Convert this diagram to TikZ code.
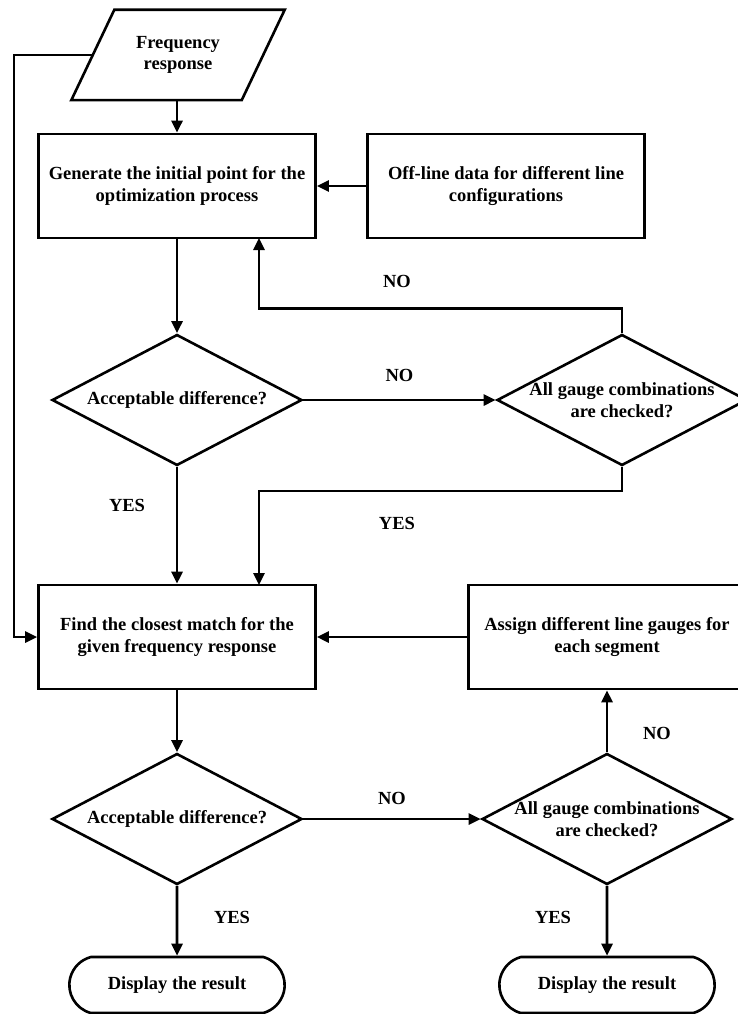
\documentclass[tikz,border=0pt]{standalone}
\usepackage{fontspec}
\setmainfont{Liberation Serif}
\usetikzlibrary{shapes.geometric,shapes.misc,arrows.meta}

\tikzset{
	proc/.style={draw, line width=2.6pt, minimum width=277pt, minimum height=104pt, align=center, inner sep=2pt},
	decide/.style={draw, diamond, line width=2.6pt, minimum width=250pt, minimum height=131pt, inner sep=0pt, label={[align=center]center:#1}},
	inout/.style={minimum width=170pt, minimum height=90pt, align=center, inner sep=0pt},
	term/.style={draw, rounded rectangle, rounded rectangle arc length=150, line width=2.6pt, minimum width=222pt, minimum height=56pt, align=center},
	lbl/.style={inner sep=1pt},
	>={Triangle[length=12pt,width=11pt]},
}

\begin{document}
\begin{tikzpicture}[x=1pt,y=-1pt,font=\fontsize{18.5}{21.5}\selectfont\bfseries]
	\useasboundingbox (0,0) rectangle (738,1014);
	%blocks
	\node[inout] (freq) at (178,55) {Frequency\\response};
	\draw[line width=2.6pt] ([xshift=21.5pt]freq.north west) -- ([xshift=21.5pt]freq.north east) -- ([xshift=-21.5pt]freq.south east) -- ([xshift=-21.5pt]freq.south west) -- cycle;
	\node[proc] (gen) at (177,186) {Generate the initial point for the\\optimization process};
	\node[proc] (offl) at (506,186) {Off-line data for different line\\configurations};
	\node[decide={Acceptable difference?}] (acc1) at (177,400) {};
	\node[decide={All gauge combinations\\are checked?}] (chk1) at (622,400) {};
	\node[proc] (find) at (177,637) {Find the closest match for the\\given frequency response};
	\node[proc] (asgn) at (607,637) {Assign different line gauges for\\each segment};
	\node[decide={Acceptable difference?}] (acc2) at (177,819) {};
	\node[decide={All gauge combinations\\are checked?}] (chk2) at (607,819) {};
	\node[term] (res1) at (177,985) {Display the result};
	\node[term] (res2) at (607,985) {Display the result};
	\coordinate (back) at (259,238);
	\coordinate (join) at (259,585);
	\coordinate (side) at (14,300);
	%connectors
	\draw[line width=2.6pt,->] (freq.south -| gen.north) -- (gen.north);
	\draw[line width=2.6pt,->] (offl) -- (gen);
	\draw[line width=2.6pt,->] (gen) -- (acc1);
	\draw[line width=2.6pt,->] (acc1) -- node[lbl, yshift=25pt] (no1) {NO} (chk1);
	\draw[line width=2.6pt,->] (chk1.north) -- ++(0,-25) -| node[lbl, pos=0.31, yshift=27pt] (no2) {NO} (back);
	\draw[line width=2.6pt,->] (chk1.south) -- ++(0,24) -| node[lbl, pos=0.31, yshift=-33pt] (yes2) {YES} (join);
	\draw[line width=2.6pt,->] (acc1) -- node[lbl, pos=0.33, xshift=-50pt] (yes1) {YES} (find);
	\draw[line width=2.6pt,->] (freq.west) -| (side) |- (find.west);
	\draw[line width=2.6pt,->] (asgn) -- (find);
	\draw[line width=2.6pt,->] (find) -- (acc2);
	\draw[line width=2.6pt,->] (acc2) -- node[lbl, yshift=21pt] (no3) {NO} (chk2);
	\draw[line width=2.6pt,->] (chk2) -- node[lbl, pos=0.3, xshift=50pt] (no4) {NO} (asgn);
	\draw[line width=2.6pt,->] (acc2) -- node[lbl, pos=0.45, xshift=55pt] (yes3) {YES} (res1);
	\draw[line width=2.6pt,->] (chk2) -- node[lbl, pos=0.45, xshift=-54pt] (yes4) {YES} (res2);
\end{tikzpicture}
\end{document}
